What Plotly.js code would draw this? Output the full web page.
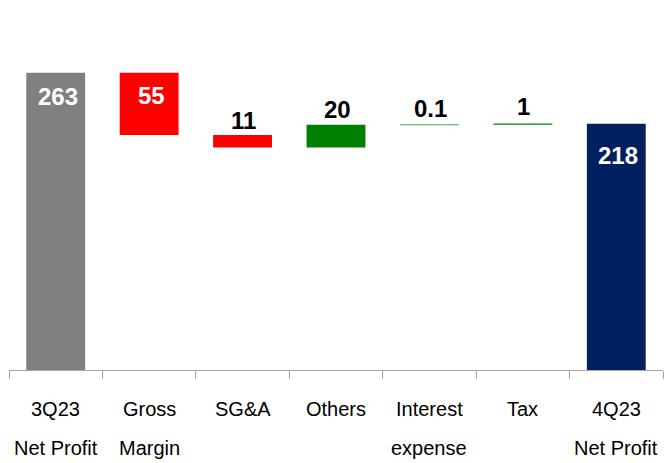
<!DOCTYPE html>
<html>
<head>
<meta charset="utf-8">
<script src="https://cdn.plot.ly/plotly-3.0.1.min.js"></script>
<style>
  html, body { margin: 0; padding: 0; background: #fff; }
  #chart { width: 668px; height: 463px; }
</style>
</head>
<body>
<div id="chart"></div>
<script>
// ---- Data ----
const categoriesLine1 = ['3Q23', 'Gross', 'SG&A', 'Others', 'Interest', 'Tax', '4Q23'];
const categoriesLine2 = ['Net Profit', 'Margin', '', '', 'expense', '', 'Net Profit'];
const measures = ['absolute', 'relative', 'relative', 'relative', 'relative', 'relative', 'total'];
const values = [263, -55, -11, 20, 0.1, 1, 218];
const valueLabels = ['263', '55', '11', '20', '0.1', '1', '218'];

// ---- Styles ----
const colStart = '#808080', colEnd = '#002060', colUp = '#008000', colDown = '#ff0000';
const FONT = '"Liberation Sans", Arial, Helvetica, sans-serif';
const labelInside = [true, true, false, false, false, false, true];
const insideShift = [-24, -23, 0, 0, 0, 0, -32];
const outsideShift = [0, 0, -1, 0, 1, 2, 0];

// ---- Build floating bars ----
const bases = [], heights = [], colors = [], lineW = [], lineC = [];
let running = 0;
values.forEach((v, i) => {
  const m = measures[i];
  let c;
  if (m === 'absolute') {
    bases.push(0); heights.push(v); c = colStart; running = v;
  } else if (m === 'total') {
    bases.push(0); heights.push(v); c = colEnd;
  } else {
    const start = running, end = running + v;
    bases.push(Math.min(start, end)); heights.push(Math.abs(v));
    c = v >= 0 ? colUp : colDown;
    running = end;
  }
  colors.push(c);
  // very thin bars get a hairline so they stay visible
  const tiny = Math.abs(v) < 0.5;
  lineW.push(tiny ? 1 : 0);
  lineC.push(tiny ? 'rgba(0,128,0,0.4)' : c);
});

const trace = {
  type: 'bar',
  x: categoriesLine1,
  y: heights,
  base: bases,
  width: 0.63,
  marker: { color: colors, line: { width: lineW, color: lineC } },
  hoverinfo: 'skip',
  showlegend: false
};

const annotations = [];
categoriesLine1.forEach((c, i) => {
  const top = bases[i] + heights[i];
  if (labelInside[i]) {
    annotations.push({
      x: c, y: top, xref: 'x', yref: 'y', text: '<b>' + valueLabels[i] + '</b>',
      showarrow: false, yanchor: 'middle', yshift: insideShift[i], xshift: 2,
      font: { family: FONT, size: 24, color: '#ffffff' }
    });
  } else {
    annotations.push({
      x: c, y: top, xref: 'x', yref: 'y', text: '<b>' + valueLabels[i] + '</b>',
      showarrow: false, yanchor: 'bottom', yshift: outsideShift[i], xshift: 1,
      font: { family: FONT, size: 24, color: '#000000' }
    });
  }
  annotations.push({
    x: c, y: 0, xref: 'x', yref: 'paper', text: categoriesLine1[i],
    showarrow: false, yanchor: 'middle', yshift: -39,
    font: { family: FONT, size: 20, color: '#000000' }
  });
  if (categoriesLine2[i]) {
    annotations.push({
      x: c, y: 0, xref: 'x', yref: 'paper', text: categoriesLine2[i],
      showarrow: false, yanchor: 'middle', yshift: -78,
      font: { family: FONT, size: 20, color: '#000000' }
    });
  }
});

const layout = {
  width: 668, height: 463,
  margin: { l: 9, r: 5, t: 31, b: 93 },
  paper_bgcolor: '#ffffff', plot_bgcolor: '#ffffff',
  font: { family: FONT },
  xaxis: {
    type: 'category',
    showticklabels: false,
    ticks: 'outside', tickson: 'boundaries', ticklen: 8, tickwidth: 1, tickcolor: '#a6a6a6',
    showline: true, linecolor: '#a6a6a6', linewidth: 1,
    showgrid: false, zeroline: false, fixedrange: true
  },
  yaxis: {
    range: [0, 300], visible: false, showgrid: false, zeroline: false, fixedrange: true
  },
  bargap: 0.37,
  annotations: annotations
};

Plotly.newPlot('chart', [trace], layout, { displayModeBar: false, staticPlot: true });
</script>
</body>
</html>
